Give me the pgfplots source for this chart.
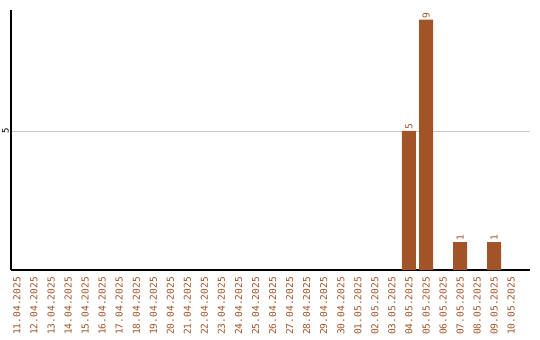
\documentclass[border=0pt]{standalone}
\usepackage{pgfplots}
\pgfplotsset{compat=1.18}
\usepackage{fontspec}
\setmainfont{DejaVu Sans Mono}
\definecolor{barbrown}{RGB}{160,84,40}
\begin{document}
\begin{tikzpicture}
\path[use as bounding box] (-11bp,-70bp) rectangle (529bp,270bp);
\begin{axis}[
  at={(0,0)}, anchor=south west,
  scale only axis, width=519bp, height=260bp,
  axis x line=bottom, axis y line=left,
  axis line style={-, line width=1.1pt},
  xmin=-0.35, xmax=30.1, ymin=0, ymax=9.35,
  xtick={0,...,29},
  xticklabels={11.04.2025,12.04.2025,13.04.2025,14.04.2025,15.04.2025,16.04.2025,17.04.2025,18.04.2025,19.04.2025,20.04.2025,21.04.2025,22.04.2025,23.04.2025,24.04.2025,25.04.2025,26.04.2025,27.04.2025,28.04.2025,29.04.2025,30.04.2025,01.05.2025,02.05.2025,03.05.2025,04.05.2025,05.05.2025,06.05.2025,07.05.2025,08.05.2025,09.05.2025,10.05.2025},
  xticklabel style={rotate=90, anchor=east, font=\fontsize{9.6}{9.6}\selectfont, text=barbrown, inner sep=0pt},
  xticklabel shift=7bp,
  ytick={5}, ymajorgrids,
  grid style={black!22, line width=0.7pt},
  yticklabel style={rotate=90, anchor=south, font=\fontsize{9}{9}\selectfont, inner sep=0pt},
  yticklabel shift=2bp,
  major tick length=0pt,
  /pgf/number format/assume math mode=true,
]
\addplot[ybar, bar width=14bp, fill=barbrown, draw=none,
  nodes near coords,
  nodes near coords style={rotate=90, anchor=west, font=\fontsize{9.6}{9.6}\selectfont, text=barbrown, inner sep=1pt}]
  coordinates {(23,5) (24,9) (26,1) (28,1)};
\end{axis}
\end{tikzpicture}
\end{document}
